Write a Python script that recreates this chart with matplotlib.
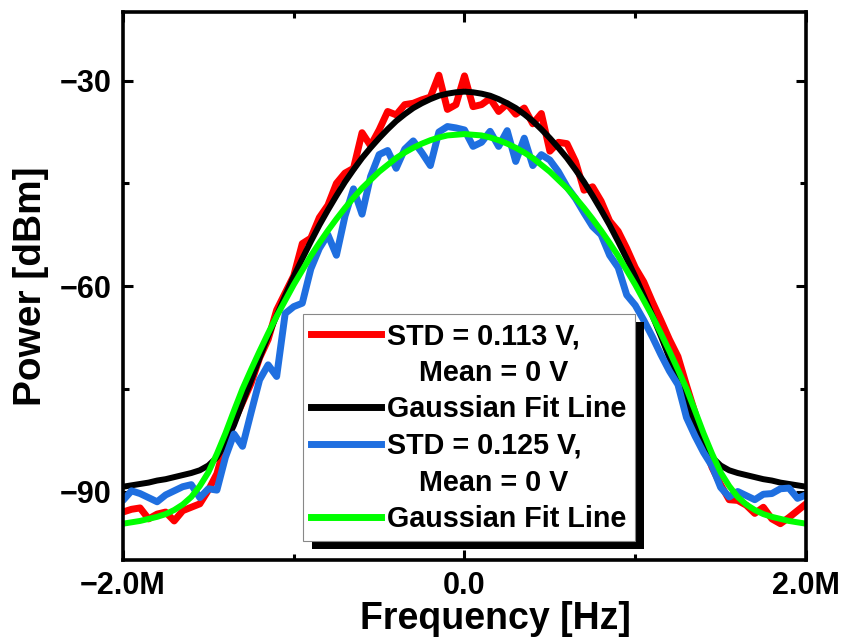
import numpy as np
import matplotlib
matplotlib.use('Agg')
import matplotlib.pyplot as plt
from matplotlib.lines import Line2D
from matplotlib.patches import Rectangle
from matplotlib.transforms import IdentityTransform

plt.rcParams['font.family'] = ['Liberation Sans', 'DejaVu Sans']
plt.rcParams['font.weight'] = 'bold'

# frequency axis in MHz, one reading every 0.05 MHz
freq = np.round(np.arange(-2.0, 2.0001, 0.05), 2)

# STD = 0.113 V trace
red_power = [
    -93.0, -92.6, -92.4, -94.0, -93.3, -93.0, -94.3, -92.8, -92.3, -91.8,
    -89.8, -87.4, -83.0, -79.8, -77.0, -74.2, -70.5, -67.8, -63.5, -61.0,
    -58.5, -53.8, -53.0, -50.0, -48.2, -45.0, -43.5, -42.8, -37.6, -39.5,
    -37.2, -34.5, -35.0, -33.5, -33.3, -32.8, -32.4, -29.2, -34.2, -33.5,
    -29.3,
    -33.8, -33.5, -32.6, -34.5, -33.4, -34.9, -34.0, -36.3, -34.8, -40.3,
    -39.0, -39.2, -41.8, -46.0, -45.5, -47.6, -50.5, -52.0, -54.5, -57.3,
    -59.4, -62.3, -65.0, -67.8, -70.3, -74.5, -78.5, -83.0, -86.5, -89.0,
    -91.2, -91.3, -92.0, -93.2, -92.3, -94.0, -94.7, -93.8, -92.8, -91.8,
]

# Gaussian fit for the 0.113 V trace
black_fit = [
    -89.3, -89.1, -88.9, -88.7, -88.4, -88.2, -87.9, -87.6, -87.3, -86.9,
    -86.2, -85.0, -83.0, -80.3, -77.0, -73.8, -70.5, -67.3, -64.3, -61.4,
    -58.6, -56.0, -53.5, -51.1, -48.9, -46.8, -44.8, -43.0, -41.3, -39.8,
    -38.4, -37.1, -35.9, -34.9, -34.0, -33.3, -32.7, -32.2, -31.9, -31.7,
    -31.6,
    -31.7, -31.9, -32.2, -32.7, -33.3, -34.0, -34.9, -35.9, -37.1, -38.4,
    -39.8, -41.3, -43.0, -44.8, -46.8, -48.9, -51.1, -53.5, -56.0, -58.6,
    -61.4, -64.3, -67.3, -70.5, -73.8, -77.0, -80.3, -83.0, -85.0, -86.2,
    -86.9, -87.3, -87.6, -87.9, -88.2, -88.4, -88.7, -88.9, -89.1, -89.3,
]

# STD = 0.125 V trace
blue_power = [
    -91.3, -89.9, -90.3, -90.9, -91.5, -90.5, -89.9, -89.3, -89.0, -90.9,
    -89.6, -89.8, -85.0, -81.6, -83.4, -78.5, -73.7, -71.5, -73.2, -64.0,
    -63.0, -62.5, -57.5, -54.5, -52.5, -55.5, -49.8, -45.8, -49.5, -44.0,
    -40.8, -40.2, -42.8, -40.0, -38.8, -40.5, -42.4, -37.5, -36.7, -36.9,
    -37.2,
    -39.6, -39.0, -37.4, -39.6, -37.3, -41.8, -38.4, -42.4, -40.8, -41.6,
    -43.3, -45.5, -47.2, -49.3, -51.3, -52.5, -55.5, -57.3, -61.3, -62.8,
    -65.0, -67.4, -70.0, -72.4, -74.4, -79.2, -81.9, -84.3, -86.3, -89.4,
    -90.8, -90.0, -90.6, -91.2, -90.4, -90.3, -89.6, -89.5, -91.0, -90.5,
]

# Gaussian fit for the 0.125 V trace
green_fit = [
    -94.7, -94.5, -94.3, -94.0, -93.7, -93.3, -92.7, -91.9, -90.8, -89.2,
    -87.2, -84.5, -81.5, -78.2, -75.0, -72.2, -69.5, -66.9, -64.4, -62.1,
    -59.8, -57.7, -55.6, -53.7, -51.9, -50.2, -48.6, -47.1, -45.7, -44.5,
    -43.3, -42.3, -41.3, -40.5, -39.8, -39.2, -38.7, -38.3, -38.0, -37.9,
    -37.8,
    -37.9, -38.0, -38.3, -38.7, -39.2, -39.8, -40.5, -41.3, -42.3, -43.3,
    -44.5, -45.7, -47.1, -48.6, -50.2, -51.9, -53.7, -55.6, -57.7, -59.8,
    -62.1, -64.4, -66.9, -69.5, -72.2, -75.0, -78.2, -81.5, -84.5, -87.2,
    -89.2, -90.8, -91.9, -92.7, -93.3, -93.7, -94.0, -94.3, -94.5, -94.7,
]

labels = ['STD = 0.113 V,', '    Mean = 0 V', 'Gaussian Fit Line',
          'STD = 0.125 V,', '    Mean = 0 V', 'Gaussian Fit Line']
xticks = [-2.0, 0.0, 2.0]
xtick_labels = ['\u22122.0M', '0.0', '2.0M']
yticks = [-90, -60, -30]
ytick_labels = ['\u221290', '\u221260', '\u221230']

fig = plt.figure(figsize=(8.44, 6.41), dpi=100)
ax = fig.add_axes([0.1457, 0.1264, 0.8093, 0.8546])

ax.plot(freq, red_power, color='#ff0000', lw=5, solid_joinstyle='round',
        solid_capstyle='round')
ax.plot(freq, black_fit, color='black', lw=4.3)
ax.plot(freq, blue_power, color='#1f6fe0', lw=5, solid_joinstyle='round',
        solid_capstyle='round')
ax.plot(freq, green_fit, color='#00ff00', lw=4.3)

ax.set_xlim(-2.0, 2.0)
ax.set_ylim(-100, -20)
ax.set_xticks(xticks)
ax.set_xticklabels(xtick_labels)
ax.set_xticks([-1.0, 1.0], minor=True)
ax.set_yticks(yticks)
ax.set_yticklabels(ytick_labels)
ax.set_yticks([-75, -45], minor=True)

ax.tick_params(which='both', direction='in', top=True, right=True,
               labelsize=22, width=2.2, pad=8)
ax.tick_params(which='major', length=7)
ax.tick_params(which='minor', length=4)
for sp in ax.spines.values():
    sp.set_linewidth(2.6)

ax.set_xlabel('Frequency [Hz]', fontsize=27, fontweight='bold', labelpad=0)
ax.xaxis.set_label_coords(0.545, -0.074)
ax.set_ylabel('Power [dBm]', fontsize=28, fontweight='bold', labelpad=8)

# legend: two-line labels are split so the handle sits on the first line
handles = [
    Line2D([], [], color='#ff0000', lw=5),
    Line2D([], [], color='none'),
    Line2D([], [], color='black', lw=5),
    Line2D([], [], color='#1f6fe0', lw=5),
    Line2D([], [], color='none'),
    Line2D([], [], color='#00ff00', lw=5),
]
leg = ax.legend(handles, labels, loc='upper left',
                bbox_to_anchor=(0.2635, 0.449), borderaxespad=0,
                prop={'size': 20.7, 'weight': 'bold'}, fancybox=False,
                framealpha=1, edgecolor='#888888', handlelength=2.45,
                handletextpad=0.2, borderpad=0.28, labelspacing=0.3)
leg.get_frame().set_linewidth(0.8)

# solid black drop shadow behind the legend box
fig.canvas.draw()
bb = leg.get_frame().get_window_extent()
shadow = Rectangle((bb.x0 + 9, bb.y0 - 8), bb.width, bb.height,
                   transform=IdentityTransform(), facecolor='black',
                   edgecolor='none', zorder=4.9, clip_on=False)
ax.add_artist(shadow)

fig.savefig('out.png', dpi=100)
